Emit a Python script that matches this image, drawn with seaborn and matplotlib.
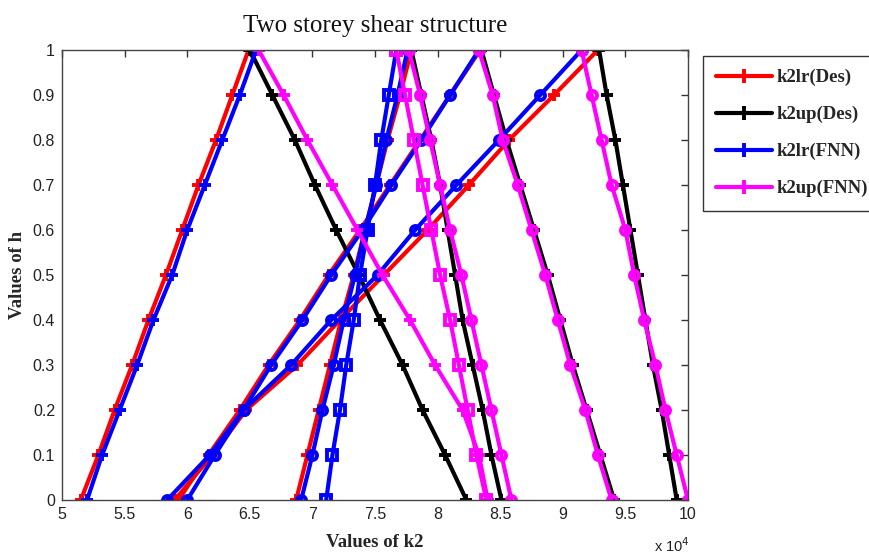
import numpy as np
import pandas as pd
import matplotlib
matplotlib.use("Agg")
import matplotlib.pyplot as plt
from matplotlib.lines import Line2D
import seaborn as sns

# membership levels (alpha cuts)
h_levels = [0.0, 0.1, 0.2, 0.3, 0.4, 0.5, 0.6, 0.7, 0.8, 0.9, 1.0]

# k2 bounds in units of 1e4, one list per case, ordered by h = 0 ... 1
k2lr_des = {
    "c1": [5.15, 5.29, 5.42, 5.56, 5.69, 5.83, 5.96, 6.09, 6.23, 6.36, 6.49],
    "c2": [6.87, 6.96, 7.05, 7.14, 7.23, 7.33, 7.42, 7.51, 7.60, 7.70, 7.79],
    "c4": [5.93, 6.17, 6.42, 6.65, 6.90, 7.13, 7.38, 7.62, 7.86, 8.10, 8.34],
    "c5": [5.90, 6.20, 6.47, 6.88, 7.22, 7.57, 7.92, 8.25, 8.57, 8.93, 9.28],
}
k2up_des = {
    "c1": [8.23, 8.06, 7.88, 7.72, 7.54, 7.37, 7.19, 7.02, 6.86, 6.68, 6.50],
    "c2": [8.51, 8.43, 8.36, 8.28, 8.20, 8.14, 8.08, 8.02, 7.95, 7.87, 7.79],
    "c4": [9.41, 9.30, 9.19, 9.08, 8.98, 8.88, 8.77, 8.66, 8.55, 8.45, 8.35],
    "c5": [9.91, 9.85, 9.79, 9.72, 9.66, 9.60, 9.54, 9.48, 9.42, 9.35, 9.29],
}
k2lr_fnn = {
    "c1": [5.20, 5.32, 5.46, 5.60, 5.73, 5.88, 6.00, 6.14, 6.28, 6.42, 6.55],
    "c2": [6.91, 7.00, 7.08, 7.17, 7.25, 7.34, 7.42, 7.51, 7.59, 7.68, 7.76],
    "c3": [7.11, 7.16, 7.22, 7.27, 7.33, 7.38, 7.44, 7.50, 7.55, 7.61, 7.67],
    "c4": [6.00, 6.22, 6.45, 6.67, 6.92, 7.15, 7.40, 7.63, 7.87, 8.10, 8.33],
    "c5": [5.84, 6.18, 6.45, 6.83, 7.15, 7.52, 7.82, 8.15, 8.49, 8.82, 9.15],
}
k2up_fnn = {
    "c1": [8.40, 8.33, 8.20, 7.98, 7.78, 7.56, 7.36, 7.16, 6.96, 6.77, 6.57],
    "c2": [8.59, 8.51, 8.43, 8.35, 8.27, 8.19, 8.10, 8.02, 7.94, 7.86, 7.77],
    "c3": [8.39, 8.31, 8.24, 8.17, 8.10, 8.02, 7.95, 7.88, 7.81, 7.74, 7.67],
    "c4": [9.39, 9.28, 9.18, 9.06, 8.96, 8.86, 8.75, 8.64, 8.52, 8.44, 8.33],
    "c5": [10.00, 9.91, 9.82, 9.74, 9.65, 9.57, 9.50, 9.39, 9.31, 9.23, 9.15],
}

series_names = ["k2lr(Des)", "k2up(Des)", "k2lr(FNN)", "k2up(FNN)"]
series_data = [k2lr_des, k2up_des, k2lr_fnn, k2up_fnn]
series_colors = ["#ff0000", "#000000", "#0000ff", "#ff00ff"]

x_ticks = [5, 5.5, 6, 6.5, 7, 7.5, 8, 8.5, 9, 9.5, 10]
x_tick_labels = ["5", "5.5", "6", "6.5", "7", "7.5", "8", "8.5", "9", "9.5", "10"]
y_ticks = [0, 0.1, 0.2, 0.3, 0.4, 0.5, 0.6, 0.7, 0.8, 0.9, 1.0]
y_tick_labels = ["0", "0.1", "0.2", "0.3", "0.4", "0.5", "0.6", "0.7", "0.8", "0.9", "1"]

# marker per case for the Des and FNN runs
des_markers = {"c1": "+", "c2": "+", "c4": "+", "c5": "+"}
fnn_markers = {"c1": "+", "c2": "o", "c3": "s", "c4": "o", "c5": "o"}
series_markers = [des_markers, des_markers, fnn_markers, fnn_markers]

sns.set_theme(style="white")
plt.rcParams["font.family"] = ["Liberation Sans Narrow", "Liberation Sans", "DejaVu Sans"]

fig = plt.figure(figsize=(8.7, 5.6), dpi=100)
ax = fig.add_axes([0.0713, 0.1071, 0.7195, 0.8036])

for name, data, color, mk in zip(series_names, series_data, series_colors, series_markers):
    for case, xs in data.items():
        df = pd.DataFrame({"k2": xs, "h": h_levels})
        marker = mk[case]
        ms = 9 if marker == "+" else 6.5
        sns.lineplot(data=df, x="k2", y="h", sort=False, estimator=None,
                     color=color, lw=3, marker=marker, ms=ms, mew=2.8,
                     mec=color, mfc="none", ax=ax)

ax.set_xlim(5, 10)
ax.set_ylim(0, 1)
ax.set_xticks(x_ticks)
ax.set_xticklabels(x_tick_labels)
ax.set_yticks(y_ticks)
ax.set_yticklabels(y_tick_labels)
ax.tick_params(direction="in", length=5, width=1, colors="#333333",
               top=True, right=True, labelsize=11.5, labelcolor="#222222", pad=5)
for sp in ax.spines.values():
    sp.set_visible(True)
    sp.set_color("#444444")
    sp.set_linewidth(1.0)

serif = ["Liberation Serif", "DejaVu Serif"]
ax.set_title("Two storey shear structure", family=serif, fontsize=18, pad=13, color="#111111")
ax.set_xlabel("Values of k2", family=serif, fontsize=13.5, fontweight="bold", labelpad=9)
ax.set_ylabel("Values of h", family=serif, fontsize=13.5, fontweight="bold", labelpad=5)
fig.text(0.752, 0.014, r"x 10$^4$", fontsize=10.5, color="#222222")

handles = [Line2D([0], [0], color=c, lw=3, marker="+", ms=10, mew=2.8) for c in series_colors]
leg = fig.legend(handles, series_names, loc="upper left", bbox_to_anchor=(0.808, 0.9),
                 frameon=True, fancybox=False, borderpad=0.7, labelspacing=1.05,
                 handlelength=3.0, handletextpad=0.2, borderaxespad=0,
                 prop={"family": serif, "weight": "bold", "size": 13.5})
leg.get_frame().set_edgecolor("#000000")
leg.get_frame().set_linewidth(1.0)

fig.savefig("out.png", dpi=100)
